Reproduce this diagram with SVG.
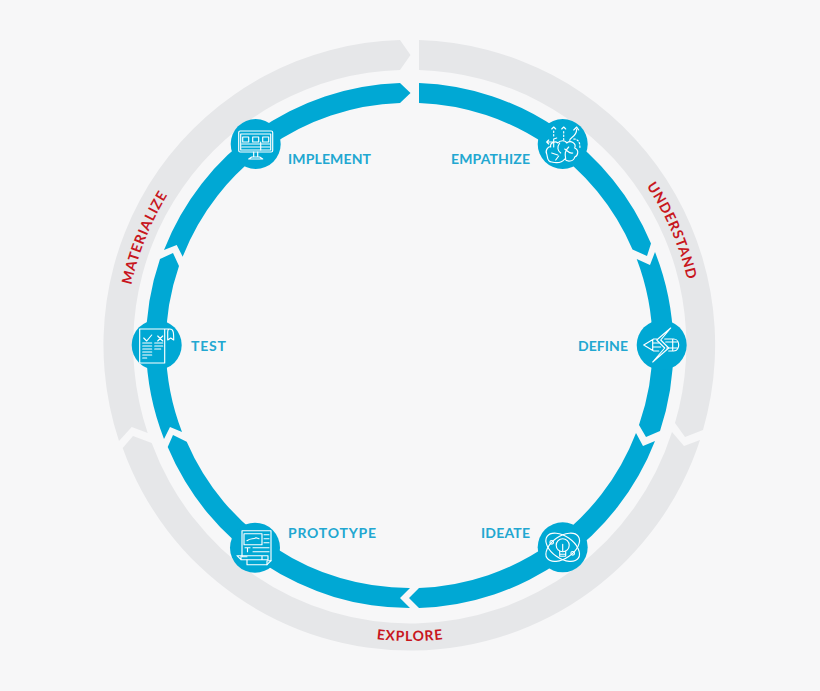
<svg xmlns="http://www.w3.org/2000/svg" width="820" height="691" viewBox="0 0 820 691">
<style>
.g{fill:#e6e7e9}
.b{fill:#00a8d4}
.c{fill:#00a8d4}
.i{fill:none;stroke:#fff;stroke-width:1.15;stroke-linecap:round;stroke-linejoin:round}
.d{stroke-dasharray:1.5 2}
.l{font-family:"Lato","Liberation Sans",sans-serif;font-weight:700;font-size:14px;fill:#22a7d1}
.r{font-family:"Lato","Liberation Sans",sans-serif;font-weight:700;font-size:14px;fill:#c8161d;text-anchor:middle;letter-spacing:.8px}
</style>
<defs>
<path id="pu" d="M611.5,143.5 A285 285 0 0 1 694.8,335"/>
<path id="pm" d="M125,345 A285 285 0 0 1 205,147"/>
<path id="pe" d="M300,619.8 A296 296 0 0 0 520,619.8"/>
</defs>
<rect width="820" height="691" fill="#f7f7f8"/>
<g id="connectors">
<path class="g" d="M419,40 A305 305 0 0 1 703,430 L685,437 L675,423 A275 275 0 0 0 419,70 Z"/>
<path class="g" d="M700,440 A305 305 0 0 1 122.7,448 L133,436 L151.7,443 A275 275 0 0 0 672,432 L684,446 Z"/>
<path class="g" d="M119,441 A305 305 0 0 1 400,40 L410.5,55 L400,70 A275 275 0 0 0 147.7,433 L131.7,427 Z"/>
<path class="b" d="M419,83 A262 262 0 0 1 651,243.5 L647,256 L632.5,249.5 A242 242 0 0 0 419,103 Z"/>
<path class="b" d="M655,252 A262 262 0 0 1 660,431 L646,437 L639,425 A242 242 0 0 0 636.7,259 L650,265 Z"/>
<path class="b" d="M655,441 A262 262 0 0 1 419,608 L409,598 L419,588 A242 242 0 0 0 636,433 L643,446 Z"/>
<path class="b" d="M410,608 A262 262 0 0 1 167.7,447 L173,435 L186.7,441.7 A242 242 0 0 0 410,588 L400,598 Z"/>
<path class="b" d="M164,439 A262 262 0 0 1 160,259 L173,253 L179,266 A242 242 0 0 0 182,432 L170,427 Z"/>
<path class="b" d="M164,250 A262 262 0 0 1 400,83 L410.5,93 L400,103 A242 242 0 0 0 182.7,256.7 L176.7,245 Z"/>
</g>
<g id="stage-understand"><text class="r"><textPath href="#pu" startOffset="50%">UNDERSTAND</textPath></text></g>
<g id="stage-materialize"><text class="r"><textPath href="#pm" startOffset="50%">MATERIALIZE</textPath></text></g>
<g id="stage-explore"><text class="r"><textPath href="#pe" startOffset="50%">EXPLORE</textPath></text></g>
<g id="node-empathize">
<circle class="c" cx="562.7" cy="144" r="25"/>
<g class="i" transform="translate(562.7,144)">
<path d="M-11,18 C-16,18 -15,12 -16,10 C-18,6 -14,2 -12,3 C-13,-2 -7,-3 -5,-1 C-3,-4 3,-4 4,-1 C8,-4 14,-1 12,4 C17,6 15,12 12,13 C11,18 4,18 2,15 C-1,19 -7,19 -11,18 Z"/>
<path d="M-3,-1 C-6,3 -5,7 -2,9 M3,15 C2,10 2,7 6,3 M-11,9 L-5,11 M-4,12 L-7,16 M2,5 C5,7 7,10 10,9"/>
<path d="M-9,3 L-9,-5 L-6,-6 M-9,-2 L-16,-2 M-16,-2 L-14,-4 M-16,-2 L-14,0"/>
<path class="d" d="M-9,-8 L-9,-13"/>
<path class="d" d="M1,-4 L1,-14"/>
<path d="M-11,-15 L-9,-17 L-7,-15 M-1,-15 L1,-17 L3,-15"/>
<path d="M7,-3 C6,-7 14,-6 14,-15 M11,-14 L14,-17 L16,-14"/>
<path class="d" d="M11,-5 C15,-5 18,-2 17,5"/>
</g>
</g>
<g id="node-define">
<circle class="c" cx="661.7" cy="345" r="25"/>
<g class="i" transform="translate(661.7,345)">
<path d="M9,-17 L-5,-5 L3,3 L-9,17 L7,3 L-1,-5 Z"/>
<path d="M-5,-6 L-8,-6 L-18,0 L-8,6 L-3,6 M-9,-5 L-9,5 M-9,-2 L-3,-2 M-9,2 L-1,2"/>
<path d="M3,-6 L12,-6 C16,-6 17,-2 17,0 C17,2 16,6 12,6 L7,6 M4,-3 L16,-3 M5,3 L16,3 M11,-6 L11,6"/>
</g>
</g>
<g id="node-ideate">
<circle class="c" cx="562.7" cy="547.3" r="25"/>
<g class="i" transform="translate(562.7,547.3)">
<ellipse rx="19" ry="11" transform="rotate(35)"/>
<ellipse rx="19" ry="11" transform="rotate(-35)"/>
<circle cx="0" cy="-2" r="6.5"/>
<path d="M-3,4 L-3,9 L3,9 L3,4 M-3,7 L3,7 M0,-3 L0,4"/>
<circle cx="-11" cy="-5" r="1.8"/>
<circle cx="10" cy="6" r="1.8"/>
</g>
</g>
<g id="node-prototype">
<circle class="c" cx="255" cy="547.7" r="25"/>
<g class="i" transform="translate(255,547.7)">
<path d="M-8,9 L-13,9 L-13,-17 L16,-17 L16,13 L12,17 L-8,17 L-8,12"/>
<path d="M-11,-14 L7,-14 L7,-3 L-11,-3 Z M-8,-7 C-4,-10 -2,-8 1,-10 L4,-9 M9,-13 L14,-13 M9,-9 L14,-9 M9,-5 L14,-5 M-2,0 L14,0 M-2,4 L14,4 M-10,0 L-5,0 M-7.5,0 L-7.5,4"/>
<path d="M-18,8 L13,8 L13,12 L-14,12 Z M7,8 L7,12 M-14,8 L-14,12"/>
<path d="M12,17 L12,13 L16,13"/>
</g>
</g>
<g id="node-test">
<circle class="c" cx="156.7" cy="345" r="25"/>
<g class="i" transform="translate(156.7,345)">
<path d="M8,18 L-17,18 L-17,-16 L13,-16 C17,-16 17,-12 17,-5 L14,-7 L11,-5 L11,-13 C11,-15 12,-16 13,-16 M8,-16 L8,18"/>
<path d="M-13,-7 L-10,-4 L-5,-10 M1,-9 L6,-4 M6,-9 L1,-4"/>
<path d="M-14,-2 L-5,-2 M-14,1 L-5,1 M-14,4 L-5,4 M-14,7 L-5,7 M-14,10 L-5,10 M-14,13 L-10,13 M-2,-2 L6,-2 M-2,1 L6,1 M-2,4 L4,4"/>
</g>
</g>
<g id="node-implement">
<circle class="c" cx="255.7" cy="144" r="25"/>
<g class="i" transform="translate(255.7,144)">
<rect x="-17" y="-13" width="34" height="21" rx="1.5"/>
<path d="M-15,-10 L15,-10 M-15,-10 L-15,6 L15,6 L15,-10"/>
<rect x="-13" y="-7" width="6" height="5"/>
<rect x="-3" y="-7" width="6" height="5"/>
<rect x="7" y="-7" width="6" height="5"/>
<path d="M-14,0 L14,0 M-14,3 L14,3 M5,-2 L5,6"/>
<path d="M-2,8 L-2,13 M2,8 L2,13 M-7,15 L7,15 M-7,15 L-4,13 L4,13 L7,15"/>
</g>
</g>
<text class="l" x="451" y="164" textLength="79">EMPATHIZE</text>
<text class="l" x="288" y="164" textLength="83">IMPLEMENT</text>
<text class="l" x="578" y="351" textLength="50">DEFINE</text>
<text class="l" x="191" y="351" textLength="35">TEST</text>
<text class="l" x="288" y="538" textLength="88">PROTOTYPE</text>
<text class="l" x="481" y="538" textLength="49">IDEATE</text>
</svg>
